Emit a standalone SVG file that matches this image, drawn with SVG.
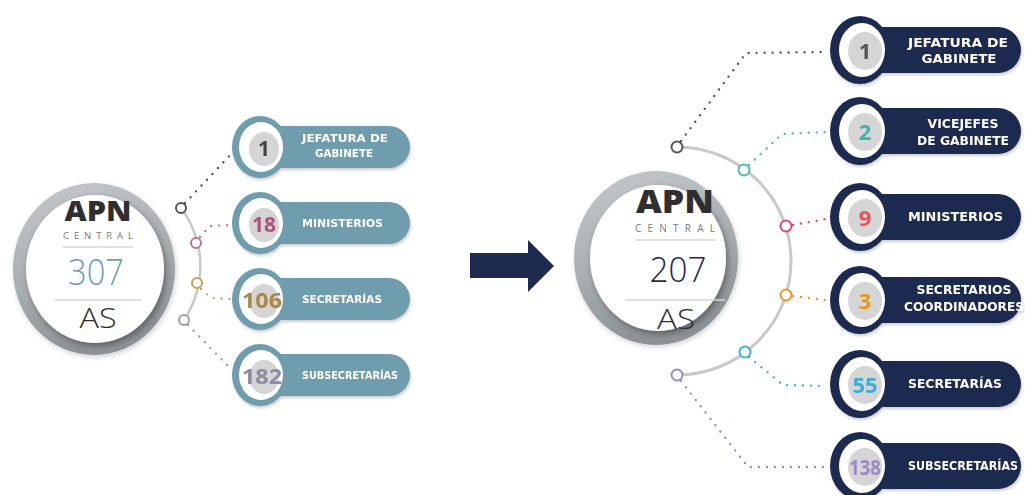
<svg xmlns="http://www.w3.org/2000/svg" width="1025" height="495" viewBox="0 0 1025 495">
<defs>
  <linearGradient id="ringG" x1="0" y1="0" x2="0.3" y2="1">
    <stop offset="0" stop-color="#c6cacc"/>
    <stop offset="0.6" stop-color="#a7acaf"/>
    <stop offset="1" stop-color="#8d9296"/>
  </linearGradient>
  <filter id="inShadow" x="-20%" y="-20%" width="140%" height="140%">
    <feDropShadow dx="2" dy="3" stdDeviation="3" flood-color="#000" flood-opacity="0.35"/>
  </filter>
  <filter id="outShadow" x="-20%" y="-20%" width="140%" height="140%">
    <feDropShadow dx="1" dy="2" stdDeviation="2.5" flood-color="#000" flood-opacity="0.18"/>
  </filter>
  <filter id="pillShadow" x="-10%" y="-20%" width="120%" height="140%">
    <feDropShadow dx="1" dy="2" stdDeviation="1.5" flood-color="#000" flood-opacity="0.2"/>
  </filter>
</defs>
<style>
  .teal{fill:#6f9dae}
  .navy{fill:#1f2a50}
  .wh{fill:#ffffff}
  .disk{fill:#d5d5d5}
  .lnum{font-family:"Open Sans","Liberation Sans",sans-serif;font-weight:700;font-size:21px;text-anchor:middle}
  .rnum{font-family:"Open Sans","Liberation Sans",sans-serif;font-weight:700;font-size:22px;text-anchor:middle}
  .llab{font-family:"DejaVu Sans","Liberation Sans",sans-serif;font-weight:700;font-size:10.5px;fill:#ffffff}
  .rlab{font-family:"DejaVu Sans","Liberation Sans",sans-serif;font-weight:700;font-size:12px;fill:#ffffff}
  .mid{text-anchor:middle}
  .apn{font-family:"Open Sans","Liberation Sans",sans-serif;font-weight:800;fill:#2f2f2f;text-anchor:middle}
  .central{font-family:"Open Sans","Liberation Sans",sans-serif;font-weight:400;fill:#7a7a7a;text-anchor:middle}
  .big{font-family:"Open Sans","Liberation Sans",sans-serif;font-weight:300;text-anchor:middle}
  .sep{stroke:#d6d6d6;stroke-width:1.5}
  .dots{fill:none;stroke-width:2.4;stroke-linecap:round;stroke-dasharray:0 8}
  .node{fill:#ffffff;stroke-width:2}
  .arc{fill:none;stroke:#c9c9c9}
</style>

<!-- arrow -->
<g id="arrow">
  <polygon points="470,253 528,253 528,240 554,266 528,292 528,278 470,278" fill="#1f2a50"/>
</g>

<!-- connectors -->
<g id="connectors">
  <path class="arc" stroke-width="2.5" d="M 181 208 A 97 97 0 0 1 184 320"/>
  <path class="arc" stroke-width="3" d="M 677 147 A 114 114 0 0 1 677 375"/>

  <path class="dots" stroke="#555555" d="M 185 203 L 234 151"/>
  <path class="dots" stroke="#b9779a" d="M 200 237 L 210 226 L 232 225"/>
  <path class="dots" stroke="#c9a15f" d="M 201 289 L 211 298 L 232 299"/>
  <path class="dots" stroke="#a39bb5" d="M 188 325 L 232 370"/>

  <path class="dots" stroke="#555555" d="M 681 141 L 746 53 L 826 52"/>
  <path class="dots" stroke="#4dbdb0" d="M 749 165 L 782 134 L 826 132"/>
  <path class="dots" stroke="#e0447c" d="M 793 225 L 826 219"/>
  <path class="dots" stroke="#f29524" d="M 793 296 L 826 300"/>
  <path class="dots" stroke="#39b4dc" d="M 749 357 L 783 385 L 826 386"/>
  <path class="dots" stroke="#9d8bc4" d="M 681 381 L 748 467 L 826 467"/>

  <circle class="node" cx="181" cy="208" r="5" stroke="#555555"/>
  <circle class="node" cx="196" cy="243" r="5" stroke="#b9779a"/>
  <circle class="node" cx="197" cy="283" r="5" stroke="#c9a15f"/>
  <circle class="node" cx="184" cy="320" r="5" stroke="#a39bb5"/>

  <circle class="node" cx="677" cy="147" r="5.5" stroke="#555555"/>
  <circle class="node" cx="744" cy="170" r="5.5" stroke="#4dbdb0"/>
  <circle class="node" cx="786" cy="226" r="5.5" stroke="#e0447c"/>
  <circle class="node" cx="786" cy="295" r="5.5" stroke="#f29524"/>
  <circle class="node" cx="745" cy="352" r="5.5" stroke="#39b4dc"/>
  <circle class="node" cx="677" cy="375" r="5.5" stroke="#9d8bc4"/>
</g>

<!-- left central circle -->
<g id="left-center">
  <ellipse cx="94" cy="269" rx="81" ry="86" fill="url(#ringG)" filter="url(#outShadow)"/>
  <ellipse cx="95" cy="269" rx="69" ry="74" fill="#ffffff" filter="url(#inShadow)"/>
  <text class="apn" x="98" y="221" font-size="29" textLength="67" lengthAdjust="spacingAndGlyphs">APN</text>
  <text class="central" x="98" y="239" font-size="9.5" textLength="70" lengthAdjust="spacing">CENTRAL</text>
  <line class="sep" x1="63" y1="247" x2="133" y2="247"/>
  <text class="big" x="96" y="285" font-size="36" fill="#6b9fb2" textLength="56" lengthAdjust="spacingAndGlyphs">307</text>
  <line class="sep" x1="55" y1="300" x2="142" y2="300"/>
  <text class="big" x="98" y="328" font-size="28" fill="#2f2f2f" textLength="37" lengthAdjust="spacingAndGlyphs">AS</text>
</g>

<!-- right central circle -->
<g id="right-center">
  <ellipse cx="656" cy="258" rx="82" ry="87" fill="url(#ringG)" filter="url(#outShadow)"/>
  <ellipse cx="658" cy="258" rx="68" ry="73" fill="#ffffff" filter="url(#inShadow)"/>
  <text class="apn" x="675" y="213" font-size="31" textLength="78" lengthAdjust="spacingAndGlyphs">APN</text>
  <text class="central" x="675" y="232" font-size="10" textLength="80" lengthAdjust="spacing">CENTRAL</text>
  <line class="sep" x1="635" y1="240" x2="715" y2="240"/>
  <text class="big" x="678" y="282" font-size="34" fill="#1f2a50" font-weight="400" textLength="57" lengthAdjust="spacingAndGlyphs">207</text>
  <line class="sep" x1="625" y1="300" x2="725" y2="300"/>
  <text class="big" x="676" y="329" font-size="27" fill="#2f2f2f" textLength="38" lengthAdjust="spacingAndGlyphs">AS</text>
</g>

<!-- left pills -->
<g id="l-jefatura" filter="url(#pillShadow)">
  <rect class="teal" x="258" y="126" width="152" height="42" rx="21"/>
  <ellipse class="teal" cx="260" cy="147" rx="28" ry="31"/>
  <ellipse class="wh" cx="261" cy="147" rx="22" ry="25"/>
  <ellipse class="disk" cx="264" cy="149" rx="15" ry="17"/>
  <text class="lnum" x="264" y="156" fill="#444444">1</text>
  <text class="llab mid" x="345" y="142" textLength="86" lengthAdjust="spacingAndGlyphs">JEFATURA DE</text>
  <text class="llab mid" x="344" y="157" textLength="58" lengthAdjust="spacingAndGlyphs">GABINETE</text>
</g>
<g id="l-ministerios" filter="url(#pillShadow)">
  <rect class="teal" x="258" y="202" width="152" height="42" rx="21"/>
  <ellipse class="teal" cx="260" cy="223" rx="28" ry="31"/>
  <ellipse class="wh" cx="261" cy="223" rx="22" ry="25"/>
  <ellipse class="disk" cx="264" cy="225" rx="15" ry="17"/>
  <text class="lnum" x="264" y="232" fill="#b3507a">18</text>
  <text class="llab" x="302" y="227" textLength="81" lengthAdjust="spacingAndGlyphs">MINISTERIOS</text>
</g>
<g id="l-secretarias" filter="url(#pillShadow)">
  <rect class="teal" x="258" y="278" width="152" height="42" rx="21"/>
  <ellipse class="teal" cx="260" cy="299" rx="28" ry="31"/>
  <ellipse class="wh" cx="261" cy="299" rx="22" ry="25"/>
  <ellipse class="disk" cx="264" cy="301" rx="15" ry="17"/>
  <text class="lnum" x="262" y="308" fill="#a8874a" textLength="40" lengthAdjust="spacingAndGlyphs">106</text>
  <text class="llab" x="302" y="303" textLength="80" lengthAdjust="spacingAndGlyphs">SECRETARÍAS</text>
</g>
<g id="l-subsecretarias" filter="url(#pillShadow)">
  <rect class="teal" x="258" y="354" width="152" height="42" rx="21"/>
  <ellipse class="teal" cx="260" cy="375" rx="28" ry="31"/>
  <ellipse class="wh" cx="261" cy="375" rx="22" ry="25"/>
  <ellipse class="disk" cx="264" cy="377" rx="15" ry="17"/>
  <text class="lnum" x="262" y="384" fill="#908aa5" textLength="40" lengthAdjust="spacingAndGlyphs">182</text>
  <text class="llab" x="302" y="379" textLength="96" lengthAdjust="spacingAndGlyphs">SUBSECRETARÍAS</text>
</g>

<!-- right pills -->
<g id="r-jefatura" filter="url(#pillShadow)">
  <rect class="navy" x="860" y="27" width="161" height="46" rx="23"/>
  <ellipse class="navy" cx="860" cy="50" rx="30" ry="34"/>
  <ellipse class="wh" cx="862" cy="50" rx="23" ry="27"/>
  <ellipse class="disk" cx="865" cy="51" rx="17" ry="19"/>
  <text class="rnum" x="865" y="59" fill="#555555">1</text>
  <text class="rlab mid" x="958" y="47" textLength="100" lengthAdjust="spacingAndGlyphs">JEFATURA DE</text>
  <text class="rlab mid" x="959" y="63" textLength="75" lengthAdjust="spacingAndGlyphs">GABINETE</text>
</g>
<g id="r-vicejefes" filter="url(#pillShadow)">
  <rect class="navy" x="860" y="108" width="161" height="46" rx="23"/>
  <ellipse class="navy" cx="860" cy="131" rx="30" ry="34"/>
  <ellipse class="wh" cx="862" cy="131" rx="23" ry="27"/>
  <ellipse class="disk" cx="865" cy="132" rx="17" ry="19"/>
  <text class="rnum" x="865" y="140" fill="#3ab5a8">2</text>
  <text class="rlab mid" x="963" y="128" textLength="71" lengthAdjust="spacingAndGlyphs">VICEJEFES</text>
  <text class="rlab mid" x="963" y="145" textLength="92" lengthAdjust="spacingAndGlyphs">DE GABINETE</text>
</g>
<g id="r-ministerios" filter="url(#pillShadow)">
  <rect class="navy" x="860" y="194" width="161" height="46" rx="23"/>
  <ellipse class="navy" cx="860" cy="217" rx="30" ry="34"/>
  <ellipse class="wh" cx="862" cy="217" rx="23" ry="27"/>
  <ellipse class="disk" cx="865" cy="218" rx="17" ry="19"/>
  <text class="rnum" x="865" y="226" fill="#f0505a">9</text>
  <text class="rlab" x="908" y="221" textLength="95" lengthAdjust="spacingAndGlyphs">MINISTERIOS</text>
</g>
<g id="r-coordinadores" filter="url(#pillShadow)">
  <rect class="navy" x="860" y="277" width="161" height="46" rx="23"/>
  <ellipse class="navy" cx="860" cy="300" rx="30" ry="34"/>
  <ellipse class="wh" cx="862" cy="300" rx="23" ry="27"/>
  <ellipse class="disk" cx="865" cy="301" rx="17" ry="19"/>
  <text class="rnum" x="865" y="309" fill="#f0950f">3</text>
  <text class="rlab mid" x="964" y="294" textLength="95" lengthAdjust="spacingAndGlyphs">SECRETARIOS</text>
  <text class="rlab mid" x="964" y="311" textLength="120" lengthAdjust="spacingAndGlyphs">COORDINADORES</text>
</g>
<g id="r-secretarias" filter="url(#pillShadow)">
  <rect class="navy" x="860" y="361" width="161" height="46" rx="23"/>
  <ellipse class="navy" cx="860" cy="384" rx="30" ry="34"/>
  <ellipse class="wh" cx="862" cy="384" rx="23" ry="27"/>
  <ellipse class="disk" cx="865" cy="385" rx="17" ry="19"/>
  <text class="rnum" x="865" y="393" fill="#3aaee0">55</text>
  <text class="rlab" x="908" y="388" textLength="94" lengthAdjust="spacingAndGlyphs">SECRETARÍAS</text>
</g>
<g id="r-subsecretarias" filter="url(#pillShadow)">
  <rect class="navy" x="860" y="443" width="161" height="46" rx="23"/>
  <ellipse class="navy" cx="860" cy="466" rx="30" ry="34"/>
  <ellipse class="wh" cx="862" cy="466" rx="23" ry="27"/>
  <ellipse class="disk" cx="865" cy="467" rx="17" ry="19"/>
  <text class="rnum" x="865" y="475" fill="#9b88c8" textLength="32" lengthAdjust="spacingAndGlyphs">138</text>
  <text class="rlab" x="908" y="470" textLength="110" lengthAdjust="spacingAndGlyphs">SUBSECRETARÍAS</text>
</g>
</svg>
